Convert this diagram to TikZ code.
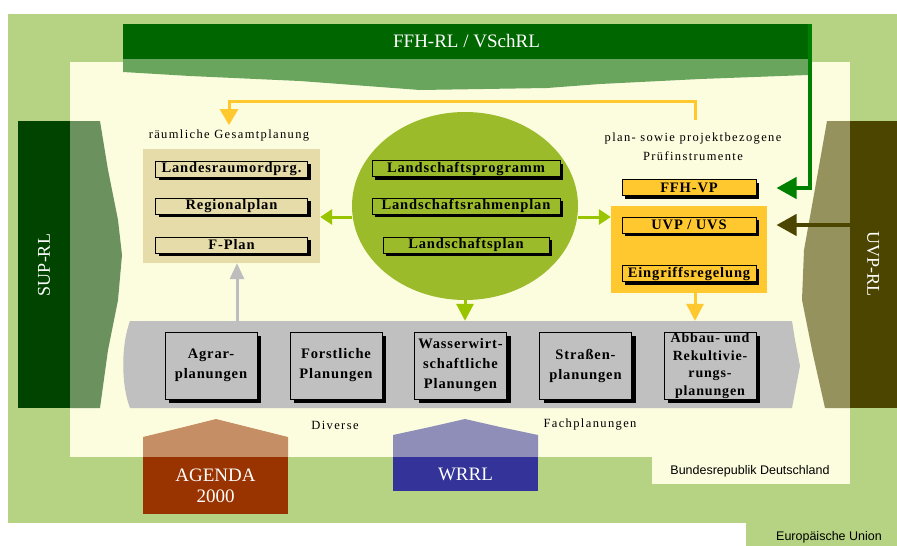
\documentclass[tikz,border=0pt]{standalone}
\usepackage{fontspec}
\setmainfont{Liberation Serif}
\setsansfont{Liberation Sans}
\newfontfamily\spfont[LetterSpace=6]{Liberation Serif}
\newfontfamily\lbfont[LetterSpace=11]{Liberation Serif}
\usetikzlibrary{arrows.meta,shadows,shapes.geometric}
\definecolor{lgreen}{HTML}{B6D383}
\definecolor{cream}{HTML}{FCFCDF}
\definecolor{ffhgreen}{HTML}{006600}
\definecolor{ffhline}{HTML}{008000}
\definecolor{supgreen}{HTML}{004400}
\definecolor{uvpcol}{HTML}{4B4500}
\definecolor{circgreen}{HTML}{9BBB2B}
\definecolor{garrow}{HTML}{99C400}
\definecolor{beige}{HTML}{E6DCAA}
\definecolor{orangebox}{HTML}{FFC82E}
\definecolor{bandgray}{HTML}{C0C0C0}
\definecolor{garr}{HTML}{BDBDBD}
\definecolor{brown}{HTML}{993300}
\definecolor{wblue}{HTML}{333399}
\colorlet{ffhchk}{ffhgreen!58!cream}
\colorlet{supchk}{supgreen!58!cream}
\colorlet{uvpchk}{uvpcol!58!cream}
\colorlet{brownchk}{brown!55!cream}
\colorlet{bluechk}{wblue!55!cream}
\begin{document}
\begin{tikzpicture}[x=1pt,y=-1pt,
  pbox/.style={draw=black, line width=1pt, minimum height=16pt, inner sep=0pt,
    font=\spfont\bfseries\fontsize{14.5}{15}\selectfont,
    drop shadow={shadow xshift=3pt, shadow yshift=-3pt, fill=black, opacity=1}},
  gbox/.style={draw=black, line width=1pt, fill=bandgray, minimum width=92pt, minimum height=67pt,
    inner sep=0pt, align=center, font=\spfont\bfseries\fontsize{14.5}{20}\selectfont,
    drop shadow={shadow xshift=4pt, shadow yshift=-4pt, fill=black, opacity=1}},
  lbl/.style={font=\lbfont\fontsize{12.5}{19}\selectfont, inner sep=1pt, align=center},
  big/.style={text=white, font=\fontsize{19}{22}\selectfont, align=center},
  sans/.style={font=\sffamily\fontsize{12.5}{14}\selectfont},
]
\useasboundingbox (0,0) rectangle (897,546);
\fill[white] (0,0) rectangle (897,546);
% Europäische Union area
\fill[lgreen] (8,14) rectangle (897,523);
\fill[lgreen] (746,523) rectangle (897,546);
% Bundesrepublik area
\fill[cream] (70,62) rectangle (850,457);
\fill[cream] (652,457) rectangle (850,484);
\node[sans] (eu) at (829,537) {Europäische Union};
\node[sans] (brd) at (750,471) {Bundesrepublik Deutschland};

% FFH band
\fill[ffhchk] (123,59) -- (808,59) -- (808,75) -- (700,79) -- (600,84) -- (547,88) -- (420,90)
  -- (300,81) -- (190,76) -- (123,72) -- cycle;
\node[fill=ffhgreen, minimum width=687pt, minimum height=35pt, inner sep=0pt, big] (ffh) at (466.5,41.5) {FFH-RL / VSchRL};

% SUP
\fill[supchk] (70,121) -- (100,121) -- (108,170) -- (118,220) -- (122,255) -- (118,300)
  -- (108,350) -- (100,408) -- (70,408) -- cycle;
\fill[supgreen] (18,121) rectangle (70,408);
\node[big, rotate=90, font=\fontsize{18}{20}\selectfont] (sup) at (44,265) {SUP-RL};

% UVP
\fill[uvpchk] (827,121) -- (813,200) -- (804,250) -- (802,300) -- (812,350) -- (825,408)
  -- (850,408) -- (850,121) -- cycle;
\fill[uvpcol] (850,121) rectangle (897,408);
\node[big, rotate=-90, font=\fontsize{18}{20}\selectfont] (uvp) at (873,264) {UVP-RL};

% räumliche Gesamtplanung
\node[lbl] (raumlbl) at (229,136) {räumliche Gesamtplanung};
\node[fill=beige, minimum width=177pt, minimum height=114pt, inner sep=0pt] (raum) at (231.5,206) {};
\node[pbox, fill=beige, minimum width=152pt] (lrp) at (231.5,169) {Landesraumordprg.};
\node[pbox, fill=beige, minimum width=152pt] (rp) at (231.5,206) {Regionalplan};
\node[pbox, fill=beige, minimum width=152pt] (fp) at (231.5,245) {F-Plan};

% Landschaftsplanung
\node[ellipse, fill=circgreen, minimum width=226pt, minimum height=188pt, inner sep=0pt] (circ) at (465,206) {};
\node[pbox, fill=circgreen, minimum width=188pt] (lsp) at (466,168.5) {Landschaftsprogramm};
\node[pbox, fill=circgreen, minimum width=188pt] (lrpl) at (466,206) {Landschaftsrahmenplan};
\node[pbox, fill=circgreen, minimum width=166pt] (lpl) at (466,245) {Landschaftsplan};

% Prüfinstrumente
\node[lbl] (plbl) at (693,146.5) {plan- sowie projektbezogene\\Prüfinstrumente};
\node[pbox, fill=orangebox, minimum width=134pt] (ffhvp) at (689,187.5) {FFH-VP};
\node[fill=orangebox, minimum width=156pt, minimum height=87pt, inner sep=0pt] (pruef) at (689,249.5) {};
\node[pbox, fill=orangebox, minimum width=134pt] (uvs) at (689,225) {UVP / UVS};
\node[pbox, fill=orangebox, minimum width=134pt] (eing) at (689,273.5) {Eingriffsregelung};

% Fachplanungen band
\node[minimum width=670pt, minimum height=87pt, inner sep=0pt] (band) at (465,364.5) {};
\fill[bandgray] (130,321) -- (792,321) -- (795,340) -- (800,366) -- (795,392) -- (792,408) -- (130,408)
  .. controls (121,385) and (121,345) .. (130,321) -- cycle;
\node[gbox] (agrar) at (211,365.5) {Agrar-\\planungen};
\node[gbox] (forst) at (336,365.5) {Forstliche\\Planungen};
\node[gbox] (wasser) at (460.5,365.5) {Wasserwirt-\\schaftliche\\Planungen};
\node[gbox] (strasse) at (585.5,365.5) {Straßen-\\planungen};
\node[gbox, font=\spfont\bfseries\fontsize{14}{17.5}\selectfont] (abbau) at (710,365.5) {Abbau- und\\Rekultivie-\\rungs-\\planungen};
\node[lbl] (div) at (335,425) {Diverse};
\node[lbl] (fach) at (590,425) {Fachplanungen};

% AGENDA 2000
\fill[brownchk] (143,457) -- (143,437) -- (180,428) -- (216,419) -- (252,428) -- (288,437) -- (288,457) -- cycle;
\node[fill=brown, minimum width=145pt, minimum height=57pt, inner sep=0pt, big] (agenda) at (215.5,485.5) {AGENDA\\[-1pt]2000};

% WRRL
\fill[bluechk] (393,457) -- (393,435) -- (430,427) -- (465,419) -- (500,427) -- (538,435) -- (538,457) -- cycle;
\node[fill=wblue, minimum width=145pt, minimum height=34pt, inner sep=0pt, big] (wrrl) at (465.5,474) {WRRL};

% connectors
\coordinate (ytop) at (695,101);
\draw[orangebox, line width=3pt, -{Triangle[width=18pt,length=16pt]}, shorten <=11pt, shorten >=4pt]
  (plbl.north -| ytop) -- (ytop) -| (raumlbl.north);
\coordinate (ffhcorner) at (809.5,188);
\draw[ffhline, line width=4pt, -{Triangle[width=21pt,length=20pt]}, shorten >=20pt]
  (ffh.north east -| ffhcorner) -- (ffhcorner) -- (ffhvp.east |- ffhcorner);
\draw[uvpcol, line width=4pt, -{Triangle[width=21pt,length=20pt]}, shorten >=20pt]
  (uvs.east -| uvp.south) -- (uvs.east);
\coordinate (cl) at ([yshift=-11pt]circ.west);
\coordinate (cr) at ([yshift=-11pt]circ.east);
\draw[garrow, line width=3pt, -{Triangle[width=15pt,length=12pt]}]
  (cl) -- (cl -| raum.east);
\draw[garrow, line width=3pt, -{Triangle[width=15pt,length=12pt]}]
  (cr) -- (cr -| pruef.west);
\draw[garrow, line width=3pt, -{Triangle[width=17pt,length=17pt]}]
  (circ.south) -- (circ.south |- band.north);
\draw[orangebox, line width=3pt, -{Triangle[width=17pt,length=17pt]}]
  ([xshift=6pt]pruef.south) -- ([xshift=6pt]pruef.south |- band.north);
\draw[garr, line width=3pt, -{Triangle[width=14pt,length=16pt]}]
  ([xshift=5.5pt]raum.south |- band.north) -- ([xshift=5.5pt]raum.south);
\end{tikzpicture}
\end{document}
